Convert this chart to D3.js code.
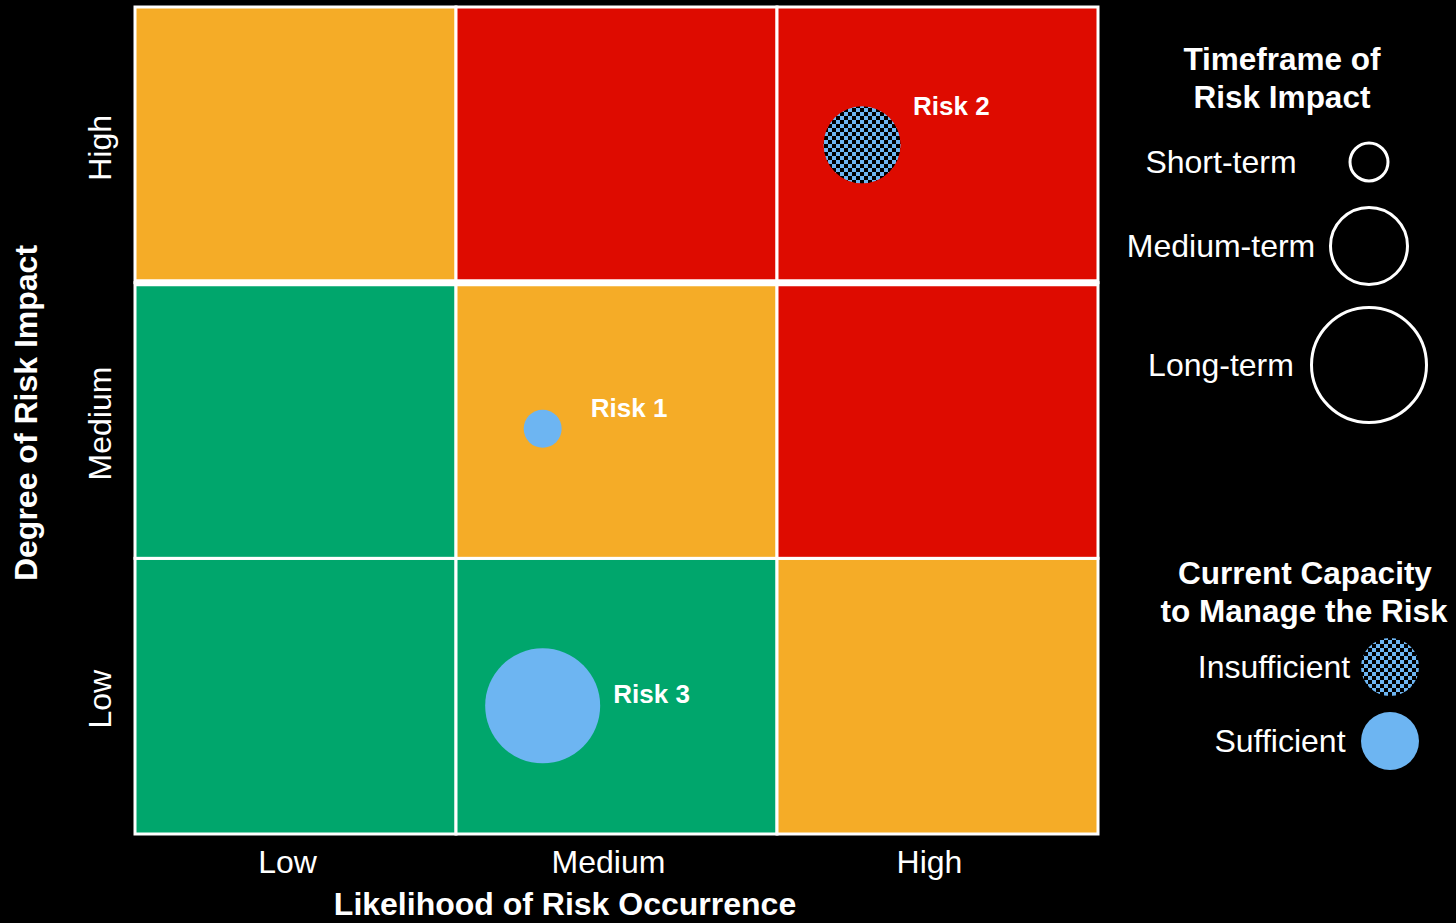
<!DOCTYPE html>
<html>
<head>
<meta charset="utf-8">
<script src="https://cdn.jsdelivr.net/npm/d3@7"></script>
<style>
  html, body { margin: 0; padding: 0; background: #000; }
  svg { display: block; }
  text { font-family: "Liberation Sans", Arial, sans-serif; fill: #fff; }
</style>
</head>
<body>
<svg id="chart" width="1456" height="923"></svg>
<script>
// ---------------- data ----------------
const likelihoodLevels = ["Low", "Medium", "High"];
const impactLevels = ["Low", "Medium", "High"];
// cell colour class per [impact][likelihood]
const cellRisk = [
  ["green", "green", "orange"],   // impact Low
  ["green", "orange", "red"],     // impact Medium
  ["orange", "red", "red"]        // impact High
];
const riskNames = ["Risk 1", "Risk 2", "Risk 3"];
const riskLikelihood = [1.27, 2.265, 1.27];
const riskImpact = [1.47, 2.5, 0.465];
const riskTimeframe = ["Short-term", "Medium-term", "Long-term"];
const riskCapacity = ["Sufficient", "Insufficient", "Sufficient"];
const riskLabelLikelihood = [1.42, 2.424, 1.49];
const riskLabelImpact = [1.545, 2.64, 0.51];
const timeframeLevels = ["Short-term", "Medium-term", "Long-term"];
const capacityLevels = ["Insufficient", "Sufficient"];

// ---------------- setup ----------------
const svg = d3.select("#chart");
const margin = { left: 135, right: 358, top: 7, bottom: 89 };
const W = 1456, H = 923;
const x = d3.scaleLinear().domain([0, 3]).range([margin.left, W - margin.right]);
const y = d3.scaleLinear().domain([0, 3]).range([H - margin.bottom, margin.top]);
const colour = d3.scaleOrdinal().domain(["green", "orange", "red"]).range(["#00A66C", "#F5AC27", "#DE0B00"]);
const rScale = d3.scaleOrdinal().domain(timeframeLevels).range([19, 38.5, 57.5]);
const blue = "#6DB5F2";

// checker pattern
const defs = svg.append("defs");
const pat = defs.append("pattern").attr("id", "checker")
  .attr("width", 8).attr("height", 8).attr("patternUnits", "userSpaceOnUse");
pat.append("rect").attr("width", 8).attr("height", 8).attr("fill", blue);
pat.append("rect").attr("width", 4).attr("height", 4).attr("fill", "#000");
pat.append("rect").attr("x", 4).attr("y", 4).attr("width", 4).attr("height", 4).attr("fill", "#000");
const fillFor = c => c === "Insufficient" ? "url(#checker)" : blue;

// ---------------- cells ----------------
const cells = [];
impactLevels.forEach((imp, i) => likelihoodLevels.forEach((lik, j) => cells.push({ i, j, c: cellRisk[i][j] })));
svg.append("g").selectAll("rect").data(cells).join("rect")
  .attr("x", d => x(d.j)).attr("y", d => y(d.i + 1))
  .attr("width", d => x(d.j + 1) - x(d.j)).attr("height", d => y(d.i) - y(d.i + 1))
  .attr("fill", d => colour(d.c))
  .attr("stroke", "#fff").attr("stroke-width", 3);
// heavier separator between Medium and High impact rows
svg.append("line").attr("x1", x(0)).attr("x2", x(3)).attr("y1", y(2)).attr("y2", y(2))
  .attr("stroke", "#fff").attr("stroke-width", 7);

// ---------------- axes ----------------
const xb = d3.scaleBand().domain(likelihoodLevels).range([x(0), x(3)]);
const yb = d3.scaleBand().domain(impactLevels).range([y(0), y(3)]);
const gx = svg.append("g").attr("transform", `translate(0,${y(0)})`)
  .call(d3.axisBottom(xb).tickSize(0).tickPadding(16));
gx.select(".domain").remove();
gx.selectAll("text").attr("font-size", 32).attr("fill", "#fff").attr("dx", -8)
  .style("font-family", "Liberation Sans, Arial, sans-serif");

const gy = svg.append("g").attr("transform", `translate(${x(0)},0)`)
  .call(d3.axisLeft(yb).tickSize(0));
gy.select(".domain").remove();
gy.selectAll("text").attr("font-size", 32).attr("fill", "#fff")
  .attr("x", 0).attr("dy", "0.35em").attr("text-anchor", "middle")
  .attr("transform", "translate(-35,3) rotate(-90)")
  .style("font-family", "Liberation Sans, Arial, sans-serif");

svg.append("text").attr("x", 565).attr("y", 915).attr("text-anchor", "middle")
  .attr("font-size", 32).attr("font-weight", "bold").text("Likelihood of Risk Occurrence");
svg.append("text").attr("transform", `translate(37,413) rotate(-90)`).attr("text-anchor", "middle")
  .attr("font-size", 32).attr("font-weight", "bold").text("Degree of Risk Impact");

// ---------------- bubbles ----------------
const risks = riskNames.map((n, k) => ({
  n, lx: riskLikelihood[k], iy: riskImpact[k], tf: riskTimeframe[k], cap: riskCapacity[k],
  tx: riskLabelLikelihood[k], ty: riskLabelImpact[k]
}));
svg.append("g").selectAll("circle").data(risks).join("circle")
  .attr("cx", d => x(d.lx)).attr("cy", d => y(d.iy)).attr("r", d => rScale(d.tf))
  .attr("fill", d => fillFor(d.cap));
svg.append("g").selectAll("text").data(risks).join("text")
  .attr("x", d => x(d.tx)).attr("y", d => y(d.ty)).attr("dy", "0.35em")
  .attr("font-size", 26).attr("font-weight", "bold").text(d => d.n);

// ---------------- legends ----------------
const lg = svg.append("g");
lg.append("text").attr("x", 1282).attr("y", 70).attr("text-anchor", "middle")
  .attr("font-size", 31.5).attr("font-weight", "bold").text("Timeframe of");
lg.append("text").attr("x", 1282).attr("y", 108).attr("text-anchor", "middle")
  .attr("font-size", 31.5).attr("font-weight", "bold").text("Risk Impact");
const tfY = [162, 246, 365];
timeframeLevels.forEach((t, k) => {
  lg.append("text").attr("x", 1221).attr("y", tfY[k]).attr("dy", "0.35em")
    .attr("text-anchor", "middle").attr("font-size", 32).text(t);
  lg.append("circle").attr("cx", 1369).attr("cy", tfY[k]).attr("r", rScale(t))
    .attr("fill", "none").attr("stroke", "#fff").attr("stroke-width", 3);
});

lg.append("text").attr("x", 1305).attr("y", 584).attr("text-anchor", "middle")
  .attr("font-size", 31.5).attr("font-weight", "bold").text("Current Capacity");
lg.append("text").attr("x", 1304).attr("y", 622).attr("text-anchor", "middle")
  .attr("font-size", 31.5).attr("font-weight", "bold").text("to Manage the Risk");
const capY = [667, 741];
const capX = [1274, 1280];
capacityLevels.forEach((c, k) => {
  lg.append("text").attr("x", capX[k]).attr("y", capY[k]).attr("dy", "0.35em")
    .attr("text-anchor", "middle").attr("font-size", 32).text(c);
  lg.append("circle").attr("cx", 1390).attr("cy", capY[k]).attr("r", 29)
    .attr("fill", fillFor(c));
});
</script>
</body>
</html>
